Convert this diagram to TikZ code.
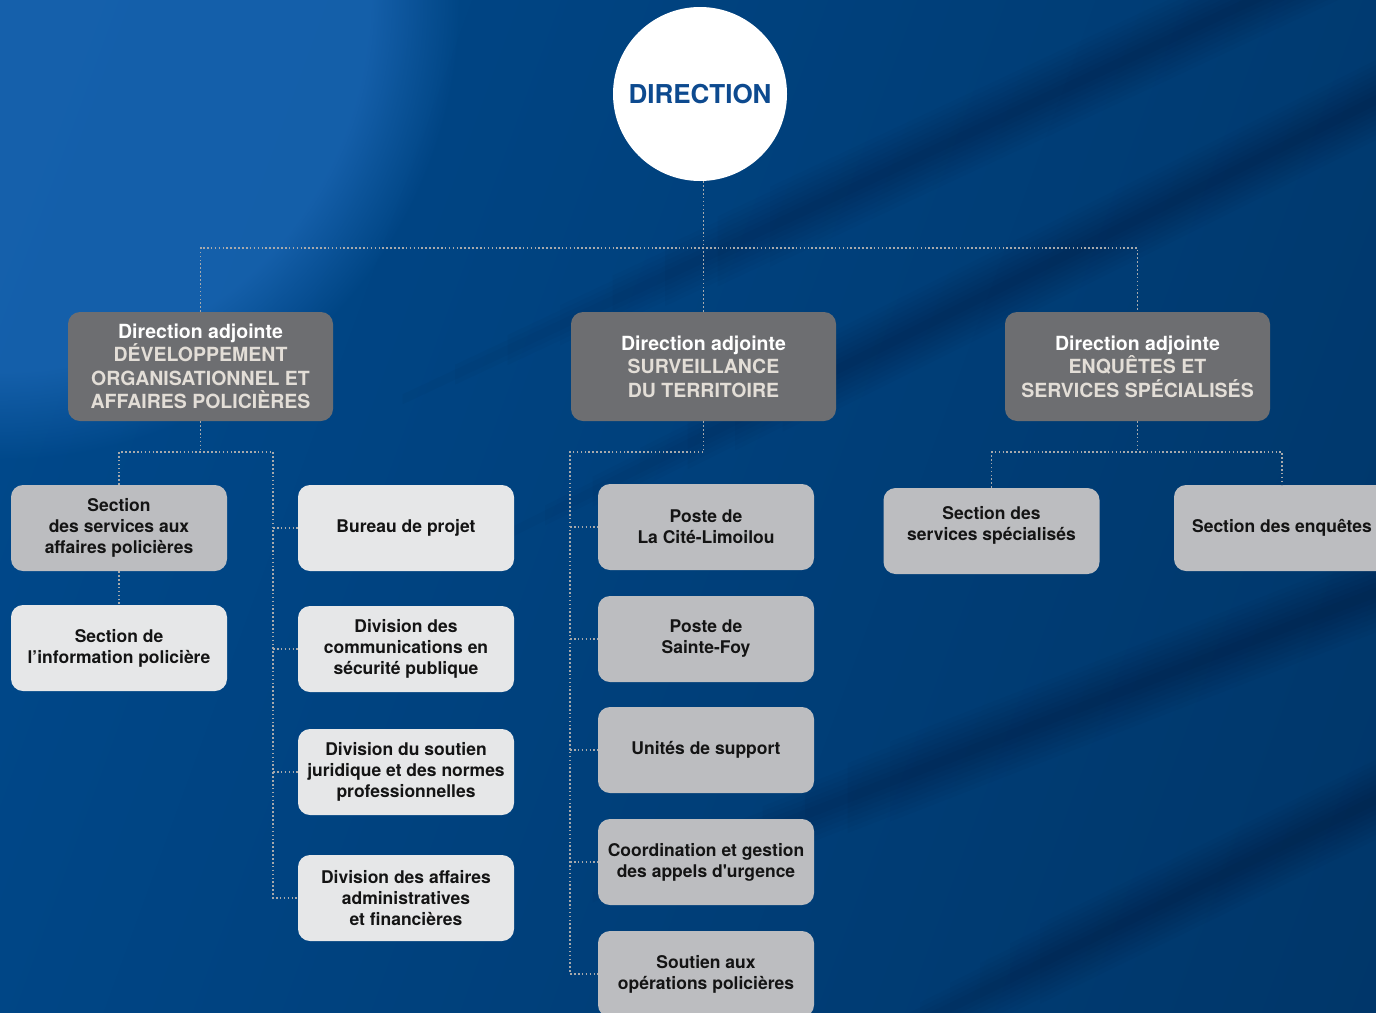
\documentclass[tikz,border=0pt]{standalone}
\usepackage{fontspec}
\setmainfont{TeX Gyre Heros}[Ligatures=TeXOff]
\usetikzlibrary{fadings,calc}
\definecolor{dagray}{HTML}{6D6E71}
\definecolor{midgray}{HTML}{BCBDC0}
\definecolor{ltgray}{HTML}{E6E7E8}
\definecolor{dirblue}{HTML}{0D4A8F}
\definecolor{subtxt}{HTML}{E3DED7}
\definecolor{conncol}{HTML}{A7A9AC}
\definecolor{bgA}{HTML}{0A559C}
\definecolor{bgB}{HTML}{00488A}
\definecolor{bgC}{HTML}{003A70}
\definecolor{bgD}{HTML}{002C58}
\definecolor{glow}{HTML}{1C68B6}
\definecolor{boxtxt}{HTML}{141414}
\pgfdeclarehorizontalshading{bgsh}{100bp}{color(0bp)=(bgA); color(30bp)=(bgB); color(65bp)=(bgC); color(100bp)=(bgD)}
\newcommand{\softband}[4]{%
  \foreach \w [count=\j] in {5,10,...,40} {%
    \coordinate (sbP) at ($(#1,#2)!{0.05*\j}!(#3,#4)$);
    \fill[black, opacity=0.022] ($(sbP)+(0,-\w)$) -- ($(#3,#4)+(0,-\w)$) -- ($(#3,#4)+(0,\w)$) -- ($(sbP)+(0,\w)$) -- cycle;}}
\begin{document}
\begin{tikzpicture}[x=1pt,y=-1pt,
  da/.style={rounded corners=12pt, fill=dagray, minimum width=265pt, minimum height=109pt, align=center,
    font=\fontsize{19.5}{23.5}\selectfont\bfseries, text=white, inner sep=0pt},
  box/.style={rounded corners=12pt, minimum width=216pt, minimum height=86pt, align=center,
    font=\fontsize{17.5}{21}\selectfont\bfseries, text=boxtxt, inner sep=0pt},
  midbox/.style={box, fill=midgray},
  ltbox/.style={box, fill=ltgray},
  conn/.style={draw=conncol, line width=1.6pt, dash pattern=on 1.6pt off 2.3pt}]
\useasboundingbox (0,0) rectangle (1376,1012);
\begin{scope}
\clip (0,0) rectangle (1376,1012);
% background
\shade[shading=bgsh, shading angle=-20] (-200,-200) rectangle (1576,1212);
\fill[glow, opacity=0.75, path fading=circle with fuzzy edge 20 percent] (0,0) circle (460pt);
\softband{350}{424}{1400}{-69}
\softband{450}{563}{1400}{88}
\softband{550}{914}{1400}{583}
\softband{800}{1081}{1400}{788}

% nodes
\node[circle, fill=white, minimum size=174pt, inner sep=0pt, text=dirblue,
  font=\fontsize{26}{30}\selectfont\bfseries] (dir) at (700,94) {DIRECTION};

\node[da] (da1) at (200.5,366.5) {Direction adjointe\\\textcolor{subtxt}{DÉVELOPPEMENT}\\\textcolor{subtxt}{ORGANISATIONNEL ET}\\\textcolor{subtxt}{AFFAIRES POLICIÈRES}};
\node[da] (da2) at (703.5,366.5) {Direction adjointe\\\textcolor{subtxt}{SURVEILLANCE}\\\textcolor{subtxt}{DU TERRITOIRE}};
\node[da] (da3) at (1137.5,366.5) {Direction adjointe\\\textcolor{subtxt}{ENQUÊTES ET}\\\textcolor{subtxt}{SERVICES SPÉCIALISÉS}};

\node[midbox] (s1) at (119,528) {Section\\des services aux\\affaires policières};
\node[ltbox] (s2) at (119,648) {Section de\\l’information policière};

\node[ltbox] (b1) at (406,528) {Bureau de projet};
\node[ltbox] (b2) at (406,649) {Division des\\communications en\\sécurité publique};
\node[ltbox] (b3) at (406,772) {Division du soutien\\juridique et des normes\\professionnelles};
\node[ltbox] (b4) at (406,898) {Division des affaires\\administratives\\et financières};

\node[midbox] (p1) at (706,527) {Poste de\\La Cité-Limoilou};
\node[midbox] (p2) at (706,639) {Poste de\\Sainte-Foy};
\node[midbox] (p3) at (706,750) {Unités de support};
\node[midbox] (p4) at (706,862) {Coordination et gestion\\des appels d'urgence};
\node[midbox] (p5) at (706,974) {Soutien aux\\opérations policières};

\node[midbox] (e1) at (991.5,531) {Section des\\services spécialisés\\[-6pt]};
\node[midbox] (e2) at (1282,528) {Section des enquêtes};

% connectors
\coordinate (h1) at (0,248);
\coordinate (h2) at (0,452);
\coordinate (l1) at (273,452);
\coordinate (c1) at (570,452);

\draw[conn] (dir.south -| da2.north) -- (da2.north);
\draw[conn] (da1.north) -- (da1.north |- h1) -- (da3.north |- h1) -- (da3.north);

\draw[conn] (da1.south) -- (da1.south |- h2);
\draw[conn] (s1.north) -- (s1.north |- h2) -- (l1) -- (l1 |- b4.west) -- (b4.west);
\draw[conn] (l1 |- b1.west) -- (b1.west);
\draw[conn] (l1 |- b2.west) -- (b2.west);
\draw[conn] (l1 |- b3.west) -- (b3.west);
\draw[conn] (s1.south) -- (s2.north);

\draw[conn] (da2.south) -- (da2.south |- c1) -- (c1) -- (c1 |- p5.west) -- (p5.west);
\draw[conn] (c1 |- p1.west) -- (p1.west);
\draw[conn] (c1 |- p2.west) -- (p2.west);
\draw[conn] (c1 |- p3.west) -- (p3.west);
\draw[conn] (c1 |- p4.west) -- (p4.west);

\draw[conn] (da3.south) -- (da3.south |- h2);
\draw[conn] (e1.north) -- (e1.north |- h2) -- (e2.north |- h2) -- (e2.north);
\end{scope}
\end{tikzpicture}
\end{document}
